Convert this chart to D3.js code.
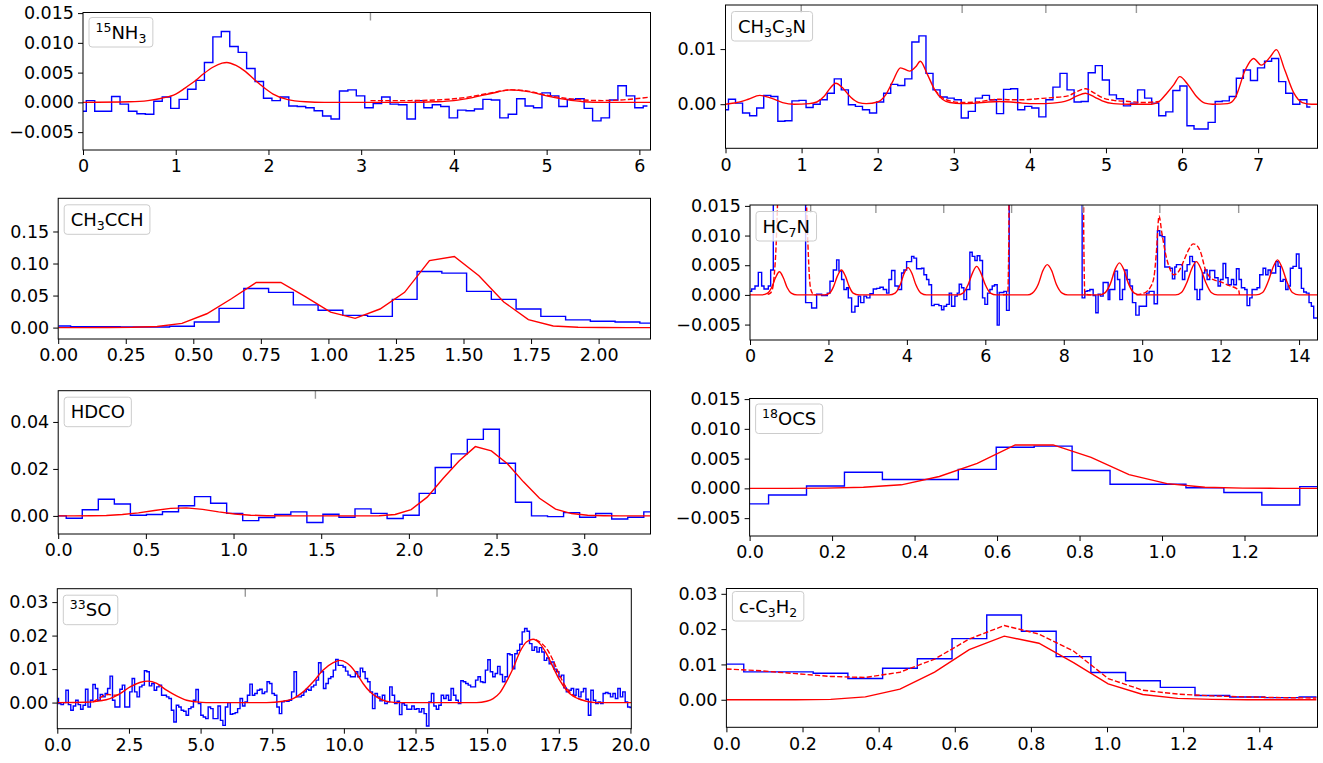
<!DOCTYPE html>
<html><head><meta charset="utf-8">
<script src="https://cdn.jsdelivr.net/npm/d3@7"></script>
<style>
body{margin:0;background:#fff;}
svg text{font-family:"DejaVu Sans",sans-serif;fill:#000;}
</style></head><body>
<svg id="chart" width="1323" height="763"></svg>
<script>
// ---------------- DATA ----------------
// 15NH3
const nh3Label = [["15","sup"],["NH",""],["3","sub"]];
const nh3ChanStart = -0.01, nh3ChanWidth = 0.091;
const nh3Obs = [-0.0015,0.0003,-0.0015,-0.0015,0.001,-0.0003,-0.0015,-0.0019,-0.002,0.0002,
 0.0009,-0.001,0.0005,0.0022,0.0037,0.0067,0.011,0.0119,0.0094,0.0084,
 0.0057,0.0035,0.0007,0.0003,0.0009,-0.0006,-0.0007,-0.0009,-0.0014,-0.0023,
 -0.0028,0.0019,0.0021,0.0011,-0.0009,-0.0002,0.0009,-0.0003,-0.0004,-0.0028,
 0.0003,-0.0009,-0.0004,-0.0007,-0.0026,-0.0013,-0.0014,-0.0011,0.0005,0.0004,
 -0.0026,-0.002,0.0006,-0.0006,-0.0009,0.0016,0.0011,-0.0007,0.0005,0.0006,
 -0.001,-0.0031,-0.0026,0.0004,0.0028,0.0011,-0.0009,-0.0006];
const nh3Model = [[0,0],[0.5,0.0001],[0.7,0.0003],[0.85,0.0007],[1.0,0.0014],[1.1,0.0024],[1.2,0.0035],[1.3,0.0048],[1.4,0.0059],[1.5,0.0066],[1.55,0.0067],[1.65,0.0062],[1.75,0.0052],[1.85,0.0038],[1.95,0.0025],[2.05,0.0014],[2.2,0.0005],[2.4,0.0001],[2.6,0],[3.5,0],[3.8,0.0001],[4.0,0.0003],[4.2,0.0008],[4.4,0.0015],[4.62,0.0021],[4.8,0.0018],[5.0,0.0011],[5.2,0.0005],[5.4,0.0001],[5.6,0],[6.12,0]];
const nh3Total = [[3.1,0.0003],[3.5,0.0003],[3.8,0.0004],[4.0,0.0006],[4.2,0.001],[4.4,0.0016],[4.62,0.0021],[4.8,0.0019],[5.0,0.0012],[5.2,0.0007],[5.4,0.0004],[5.6,0.0003],[5.8,0.0004],[5.95,0.0006],[6.12,0.0009]];
const nh3Lines = [3.10];
const nh3XTicks = [0,1,2,3,4,5,6];
const nh3YTicks = [-0.005,0,0.005,0.01,0.015];

// CH3C3N
const ch3c3nLabel = [["CH",""],["3","sub"],["C",""],["3","sub"],["N",""]];
const ch3c3nChanStart = -0.0074, ch3c3nChanWidth = 0.0927;
const ch3c3nObs = [-0.001,0.0009,0.0002,-0.0016,-0.0021,-0.0007,0.0016,0.0014,-0.0031,-0.003,
 0.0006,0.0007,-0.0006,0,0.0008,0.002,0.0046,0.0026,-0.0001,-0.0004,
 -0.001,-0.0016,0.0004,0.002,0.0036,0.0034,0.0046,0.0113,0.0124,0.0056,
 0.0026,0.0013,0.0011,0.0008,-0.0025,-0.0013,0.0011,0.0016,0.0008,-0.0017,
 0.0027,0.0028,-0.001,-0.0004,-0.0007,-0.0023,0.0008,0.0031,0.0056,0.0026,
 0.0004,0.0005,0.0057,0.007,0.0044,0.0017,0.001,-0.0003,0.0002,0.0026,
 0.0011,0.0002,-0.0021,-0.0014,0.0025,0.0033,-0.0039,-0.0045,-0.0045,-0.0033,
 0.0005,0.0006,0.0014,0.0047,0.0062,0.0043,0.0066,0.0078,0.0083,0.0041,
 0.002,0,0.0008,-0.0005];
const ch3c3nModel = [[0,0],[0.15,0.0003],[0.3,0.0009],[0.45,0.0016],[0.6,0.0011],[0.75,0.0003],[0.9,0],[1.1,0.0001],[1.2,0.0004],[1.3,0.0015],[1.38,0.003],[1.45,0.0038],[1.55,0.0028],[1.65,0.0012],[1.75,0.0003],[1.85,0.0001],[2.0,0.0004],[2.1,0.0016],[2.2,0.0042],[2.3,0.0066],[2.42,0.006],[2.5,0.0068],[2.56,0.0078],[2.65,0.0055],[2.75,0.0026],[2.85,0.0009],[2.95,0.0003],[3.1,0.0001],[3.3,0.0002],[3.45,0.0004],[3.6,0.0005],[3.75,0.0004],[3.9,0.0002],[4.1,0.0001],[4.3,0.0002],[4.5,0.0007],[4.62,0.0015],[4.73,0.002],[4.85,0.0013],[4.95,0.0006],[5.1,0.0001],[5.3,0],[5.6,0],[5.7,0.0005],[5.8,0.002],[5.89,0.0035],[5.97,0.005],[6.08,0.0035],[6.19,0.0014],[6.3,0.0002],[6.4,0],[6.6,0.0001],[6.7,0.0012],[6.83,0.0062],[6.94,0.0083],[7.04,0.0071],[7.16,0.0086],[7.24,0.0099],[7.35,0.0062],[7.47,0.002],[7.58,0.0003],[7.7,0],[7.78,0]];
const ch3c3nTotal = [[2.75,0.0026],[2.85,0.0012],[2.95,0.0006],[3.1,0.0003],[3.3,0.0004],[3.45,0.0007],[3.6,0.0009],[3.75,0.0008],[3.9,0.0008],[4.1,0.001],[4.3,0.0012],[4.5,0.0015],[4.62,0.0023],[4.73,0.0028],[4.85,0.002],[4.95,0.0012],[5.1,0.0007],[5.3,0.0005],[5.5,0.0003],[5.7,0.0005]];
const ch3c3nLines = [0.995,3.11,4.21,5.40];
const ch3c3nXTicks = [0,1,2,3,4,5,6,7];
const ch3c3nYTicks = [0,0.01];

// CH3CCH
const ch3cchLabel = [["CH",""],["3","sub"],["CCH",""]];
const ch3cchChanStart = 0, ch3cchChanWidth = 0.0916;
const ch3cchObs = [0.0026,0.0015,0.0015,0.001,0.001,0.002,0.0088,0.030,0.061,0.055,
 0.0355,0.027,0.019,0.0175,0.044,0.0875,0.085,0.0566,0.044,0.029,
 0.0175,0.012,0.0098,0.0088,0.007];
const ch3cchModel = [[0,0],[0.092,0],[0.183,0.0001],[0.275,0.0005],[0.366,0.0018],[0.458,0.0065],[0.55,0.0216],[0.641,0.045],[0.733,0.0705],[0.824,0.0705],[0.916,0.048],[1.008,0.024],[1.099,0.0145],[1.191,0.029],[1.282,0.055],[1.374,0.1045],[1.466,0.111],[1.557,0.081],[1.649,0.04],[1.74,0.0125],[1.832,0.0026],[1.924,0.0005],[2.015,0.0001],[2.107,0],[2.198,0]];
const ch3cchXTicks = [0,0.25,0.5,0.75,1,1.25,1.5,1.75,2];
const ch3cchYTicks = [0,0.05,0.1,0.15];

// HC7N
const hc7nLabel = [["HC",""],["7","sub"],["N",""]];
const hc7nObs = [[0,0.0006],[0.042,0.001],[0.127,0.0015],[0.212,0.0038],[0.297,0.0015],[0.357,0.001],[0.467,0.0015],[0.527,0.0042],[0.594,0.06],[1.418,-0.0013],[1.571,-0.0022],[1.699,0.0001],[1.826,-0.0001],[1.971,0.0003],[2.039,0.0023],[2.124,0.0042],[2.209,0.0059],[2.268,0.004],[2.336,0.0026],[2.395,0.0009],[2.463,0.0012],[2.506,-0.0005],[2.591,-0.0029],[2.676,-0.0019],[2.761,-0.0002],[2.82,-0.0013],[2.905,-0.0002],[2.973,-0.0005],[3.058,0.0002],[3.143,0.001],[3.228,0.0011],[3.313,0.0013],[3.398,0.0009],[3.483,0.0003],[3.542,0.0026],[3.61,0.0041],[3.695,0.0015],[3.78,0.0009],[3.865,0.0037],[3.924,0.0042],[3.993,0.0056],[4.052,0.0056],[4.12,0.0065],[4.179,0.0062],[4.247,0.0044],[4.307,0.0044],[4.375,0.0045],[4.434,0.0034],[4.502,0.0026],[4.561,0.0017],[4.629,-0.0018],[4.697,-0.0016],[4.757,-0.0016],[4.816,-0.0018],[4.884,-0.0025],[4.944,-0.0019],[5.012,-0.0016],[5.08,0.0003],[5.139,-0.0019],[5.224,-0.0002],[5.284,0.0003],[5.334,0.0018],[5.394,0.0012],[5.454,-0.0008],[5.522,0.0009],[5.606,0.0072],[5.666,0.0065],[5.734,0.0058],[5.793,0.0066],[5.861,0.0058],[5.929,-0.0005],[5.989,-0.0016],[6.057,0.0003],[6.116,0.0009],[6.176,0.0015],[6.235,0.0017],[6.303,-0.0051],[6.354,0.0004],[6.413,0.0004],[6.473,0.0006],[6.541,-0.0026],[6.609,0.06],
 [8.469,-0.0005],[8.537,0.0006],[8.597,0.0007],[8.665,0.0009],[8.75,-0.0001],[8.817,-0.003],[8.877,0.0001],[8.936,-0.0002],[9.004,0.0021],[9.072,0.0021],[9.132,-0.0008],[9.174,0.0009],[9.242,0.0009],[9.302,0.004],[9.37,0.0026],[9.429,-0.0008],[9.497,0.0009],[9.557,0.0042],[9.616,0.0026],[9.684,0.0015],[9.752,-0.0013],[9.837,-0.0034],[9.922,-0.0019],[10.007,-0.0019],[10.109,0.0003],[10.177,0.0006],[10.236,0.0006],[10.304,-0.0015],[10.389,0.0108],[10.448,0.01],[10.508,0.0098],[10.576,0.0047],[10.635,0.0047],[10.703,0.0045],[10.771,0.0027],[10.831,0.0047],[10.873,0.0051],[10.958,0.0051],[11.026,0.0026],[11.086,0.004],[11.145,0.0051],[11.213,0.0065],[11.281,0.0056],[11.34,0.0009],[11.4,-0.0008],[11.468,0.0009],[11.536,0.0037],[11.595,0.0042],[11.655,0.0026],[11.723,0.0041],[11.791,0.0041],[11.85,0.0029],[11.935,0.0015],[11.995,0.0026],[12.062,0.0053],[12.13,0.0029],[12.19,0.0017],[12.275,0.0026],[12.334,0.0017],[12.402,0.0044],[12.47,0.0026],[12.53,0.0012],[12.615,0.0009],[12.674,-0.0018],[12.742,-0.0005],[12.802,0.0009],[12.87,0.0009],[12.929,0.0012],[12.997,0.0034],[13.082,0.0045],[13.15,0.0034],[13.209,0.0042],[13.269,0.0037],[13.337,0.0037],[13.405,0.0056],[13.464,0.0048],[13.524,0.0023],[13.592,0.0026],[13.66,0.0009],[13.719,0.0015],[13.778,0.0045],[13.846,0.0048],[13.931,0.0069],[13.999,0.0045],[14.059,0.0011],[14.118,0.0005],[14.186,0.0003],[14.254,-0.0013],[14.313,-0.0019],[14.373,-0.0039],[14.441,-0.0039],[14.5,-0.0039]];
const hc7nModel = [[0,0],[0.3,0],[0.45,0.0003],[0.55,0.0012],[0.65,0.0029],[0.75,0.0039],[0.85,0.0029],[0.95,0.0012],[1.05,0.0003],[1.2,0],
 [1.9,0],[2.03,0.0003],[2.13,0.0014],[2.23,0.0032],[2.33,0.0042],[2.43,0.0032],[2.53,0.0014],[2.63,0.0003],[2.78,0],
 [3.55,0],[3.7,0.0003],[3.83,0.0017],[3.93,0.0036],[4.03,0.0046],[4.13,0.0036],[4.23,0.0017],[4.36,0.0003],[4.5,0],
 [5.3,0],[5.43,0.0003],[5.56,0.0017],[5.68,0.0038],[5.78,0.0048],[5.88,0.0038],[6.0,0.0017],[6.13,0.0003],[6.28,0],
 [7.08,0],[7.2,0.0003],[7.35,0.0018],[7.47,0.0041],[7.58,0.0051],[7.69,0.0041],[7.81,0.0018],[7.96,0.0003],[8.1,0],
 [8.9,0],[9.04,0.0003],[9.19,0.0019],[9.31,0.0043],[9.42,0.0054],[9.53,0.0043],[9.65,0.0019],[9.8,0.0003],[9.95,0],
 [10.85,0],[11.0,0.0004],[11.14,0.0021],[11.27,0.0045],[11.38,0.0056],[11.49,0.0045],[11.62,0.0021],[11.76,0.0004],[11.92,0],
 [12.9,0],[13.07,0.0004],[13.21,0.0022],[13.34,0.0047],[13.45,0.0059],[13.56,0.0047],[13.69,0.0022],[13.83,0.0004],[14.0,0],[14.5,0]];
const hc7nTotal = [[0.45,0.0001],[0.5,0.0002],[0.57,0.0009],[0.62,0.0035],[0.66,0.0075],[0.7,0.015],[0.75,0.03],[0.85,0.1],[1.07,0.4],[1.3,0.1],[1.4,0.03],[1.44,0.016],[1.48,0.008],[1.52,0.0025],[1.56,0.0007],[1.62,0.0001],[1.7,0],null,
 [6.45,0],[6.57,0.0001],[6.6,0.01],[6.62,0.1],[8.49,0.1],[8.51,0.01],[8.54,0.0001],[8.7,0],null,
 [9.85,0],[10.0,0.0002],[10.1,0.0005],[10.2,0.0012],[10.3,0.003],[10.36,0.007],[10.43,0.0133],[10.5,0.0105],[10.6,0.0068],[10.7,0.0045],[10.8,0.0034],[10.9,0.0037],[11.0,0.0048],[11.1,0.0064],[11.2,0.0078],[11.3,0.0086],[11.4,0.0083],[11.5,0.007],[11.6,0.0045],[11.7,0.0032],[11.8,0.0026],[12.0,0.0022],[12.2,0.0016],[12.4,0.0011],[12.46,0.0008],[12.48,0]];
const hc7nLines = [1.547,3.21,4.94,6.67,8.49,10.45,12.46];
const hc7nXTicks = [0,2,4,6,8,10,12,14];
const hc7nYTicks = [-0.005,0,0.005,0.01,0.015];

// HDCO
const hdcoLabel = [["HDCO",""]];
const hdcoChanStart = 0, hdcoChanWidth = 0.0915;
const hdcoObs = [0,-0.001,0.0026,0.0071,0.0051,0.0003,0.0006,0.0018,0.0043,0.0082,
 0.0054,0.0011,-0.002,-0.0007,0.0006,0.0017,-0.0028,0.0007,-0.0006,0.003,
 0.0011,-0.0011,0.0003,0.0096,0.0206,0.0264,0.0326,0.0369,0.0224,0.0058,
 0,-0.0003,0.0014,-0.0006,0.001,-0.0013,-0.0006,0.0017];
const hdcoModel = [[0,0],[0.0915,0],[0.183,0.0001],[0.2745,0.0002],[0.366,0.0006],[0.4575,0.0013],[0.549,0.0023],[0.6405,0.0032],[0.732,0.0034],[0.8235,0.0028],[0.915,0.0017],[1.0065,0.0008],[1.098,0.0003],[1.19,0.0001],[1.281,0],[1.739,0],[1.83,0.0001],[1.9215,0.0006],[2.013,0.0027],[2.1045,0.008],[2.196,0.016],[2.2875,0.0235],[2.379,0.0295],[2.4705,0.0277],[2.562,0.0222],[2.6535,0.0145],[2.745,0.0075],[2.8365,0.0029],[2.928,0.001],[3.0195,0.0003],[3.111,0.0001],[3.2025,0],[3.378,0]];
const hdcoLines = [1.467];
const hdcoXTicks = [0,0.5,1,1.5,2,2.5,3];
const hdcoYTicks = [0,0.02,0.04];

// 18OCS
const ocsLabel = [["18","sup"],["OCS",""]];
const ocsChanStart = 0, ocsChanWidth = 0.092;
const ocsObs = [-0.0026,-0.0011,0.0004,0.0027,0.0015,0.0015,0.0032,0.0069,0.0071,0.003,
 0.0007,0.0007,0.0001,-0.0007,-0.0028,0.0003];
const ocsModel = [[0,0],[0.092,0],[0.184,0.00005],[0.276,0.0002],[0.368,0.0006],[0.46,0.002],[0.552,0.0042],[0.644,0.0073],[0.736,0.0073],[0.828,0.0052],[0.92,0.0023],[1.012,0.0008],[1.104,0.0002],[1.196,0.00005],[1.288,0],[1.38,0]];
const ocsXTicks = [0,0.2,0.4,0.6,0.8,1.0,1.2];
const ocsYTicks = [-0.005,0,0.005,0.01,0.015];

// 33SO
const soLabel = [["33","sup"],["SO",""]];
const soChanStart = 0, soChanWidth = 0.0856;
const soObs = [0.0012,-0.0003,-0.0006,0,0.0037,-0.0006,-0.0023,-0.001,0.0007,-0.0006,
 -0.002,-0.0008,0.004,-0.0013,0.0007,0.0054,0.0042,0.0007,0.0024,0.0017,
 0.0027,0.0042,0.0079,0.0007,-0.0013,-0.0013,0.004,0.0052,-0.0013,-0.0013,
 0.0032,0.0072,0.0032,0.0017,0.0047,0.0052,0.0095,0.0092,0.005,0.0057,
 0.0037,0.0047,0.0052,0.0022,0.0022,0.0017,0.0012,-0.0023,-0.0058,-0.0008,
 -0.0013,-0.0023,-0.0026,-0.0038,-0.0018,-0.0013,0.0007,0.0039,-0.0003,-0.0038,
 -0.0043,-0.0048,-0.0013,-0.0018,-0.0048,-0.0048,-0.001,-0.0053,-0.0068,-0.0013,
 0,-0.0035,-0.0033,-0.003,-0.0018,0.0012,-0.001,0.0002,0.0022,0.0055,
 0.0022,0.0027,0.0037,0.004,0.0027,0.0032,0.0062,0.0057,0.0027,0.0022,
 -0.0013,-0.0033,0.0002,0.0005,0.0004,0.0007,0.0032,0.0092,0.0017,0.0017,
 0.0022,0.0032,0.004,0.0037,0.0047,0.0052,0.0067,0.0119,0.0092,0.0042,
 0.0057,0.0072,0.0077,0.0097,0.0129,0.0111,0.0111,0.0106,0.0094,0.0082,
 0.0077,0.0077,0.0092,0.0077,0.0103,0.0092,0.0072,0.0062,0.0032,-0.0018,
 0.0027,0.0017,0.0005,0.0022,-0.0003,0.0002,0.0047,0.0022,-0.0003,0.0004,
 -0.0036,-0.0003,-0.0008,-0.002,-0.002,-0.001,-0.002,-0.0018,-0.0028,-0.0018,
 -0.0033,-0.007,0.0002,0.0027,-0.001,-0.002,-0.0008,0.0022,0.0012,0.0022,
 0.0007,0.0042,0.0022,0.0007,-0.0003,0.0065,0.0062,0.0057,0.0052,0.0047,
 0.0047,0.0067,0.0077,0.0062,0.006,0.0097,0.0128,0.0092,0.0077,0.0087,
 0.0108,0.0084,0.0062,0.0077,0.0146,0.0143,0.0101,0.0146,0.0156,0.0174,
 0.0211,0.0221,0.0213,0.0176,0.0156,0.0166,0.0151,0.0164,0.0151,0.0126,
 0.0133,0.0116,0.0121,0.01,0.0092,0.0077,0.0082,0.0044,0.0032,0.0037,
 0.0042,0.0022,0.004,0.0017,0.0032,0.0042,0.001,-0.0038,0.0037,0.0007,
 -0.0003,0.0002,-0.0003,0.0027,0.003,0.0027,0.0017,0.0027,0.0012,0.0042,
 0.0017,0.0032,0.0002,-0.0013,-0.0015];
const soModel = [[0,0],[1.0,0.0001],[1.49,0.0005],[1.84,0.0012],[2.19,0.0027],[2.54,0.0047],[2.88,0.006],[3.17,0.0064],[3.47,0.0057],[3.81,0.0037],[4.16,0.002],[4.51,0.0007],[4.86,0.0002],[5.2,0],[7.3,0],[7.88,0.0004],[8.23,0.0012],[8.58,0.0032],[8.93,0.0062],[9.28,0.0097],[9.63,0.0119],[9.86,0.0126],[10.09,0.0119],[10.21,0.0111],[10.44,0.0087],[10.67,0.0057],[10.91,0.0032],[11.14,0.0017],[11.37,0.0007],[11.6,0.0002],[11.9,0],[14.63,0],[14.98,0.0004],[15.21,0.0012],[15.44,0.0029],[15.67,0.0062],[15.91,0.0103],[16.14,0.0151],[16.37,0.0181],[16.6,0.0189],[16.84,0.0176],[17.07,0.0146],[17.3,0.0106],[17.53,0.0067],[17.77,0.0037],[18.0,0.0019],[18.23,0.001],[18.46,0.0004],[18.81,0],[20.05,0]];
const soTotal = [[1.25,0.0002],[1.45,0.0012],[1.65,0.0022],[1.8,0.0024],[1.95,0.0022],[2.1,0.0023],[2.2,0.0027],null,
 [16.7,0.0188],[16.9,0.0177],[17.1,0.0158],[17.3,0.0126],[17.5,0.0087],[17.7,0.0053],[17.9,0.003],[18.1,0.0016],[18.3,0.0008]];
const soLines = [6.56,13.25];
const soXTicks = [0,2.5,5,7.5,10,12.5,15,17.5,20];
const soYTicks = [0,0.01,0.02,0.03];

// c-C3H2
const c3h2Label = [["c-C",""],["3","sub"],["H",""],["2","sub"]];
const c3h2ChanStart = 0, c3h2ChanWidth = 0.0912;
const c3h2Obs = [0.0101,0.0079,0.0079,0.0075,0.006,0.0089,0.0116,0.0173,0.024,0.0194,
 0.0122,0.0077,0.0054,0.0035,0.0012,0.0008,0.0006,0.0008];
const c3h2Model = [[0,0],[0.091,0],[0.182,0],[0.274,0.0001],[0.365,0.0008],[0.456,0.003],[0.547,0.0078],[0.638,0.0142],[0.73,0.018],[0.821,0.016],[0.912,0.0105],[1.003,0.0045],[1.094,0.0015],[1.186,0.0004],[1.277,0.0001],[1.368,0],[1.46,0],[1.55,0]];
const c3h2Total = [[0,0.0087],[0.091,0.0082],[0.182,0.0074],[0.274,0.0066],[0.365,0.0063],[0.456,0.0078],[0.547,0.0115],[0.638,0.0172],[0.73,0.021],[0.821,0.0186],[0.912,0.0138],[1.003,0.006],[1.094,0.0027],[1.186,0.0016],[1.277,0.0011],[1.368,0.0008],[1.46,0.0006],[1.55,0.0005]];
const c3h2XTicks = [0,0.2,0.4,0.6,0.8,1.0,1.2,1.4];
const c3h2YTicks = [0,0.01,0.02,0.03];

// ---------------- DRAWING ----------------
const svg = d3.select('#chart');
const BLUE = '#0000ff', RED = '#ff0000';
const TICKFS = 17.5, LEGFS = 18;

function chan(start, width, vals){ return vals.map((v,i)=>[start + i*width, v]); }

const panels = [
 {id:'p1', L:83, R:650.5, T:12.5, B:150, xd:[0,6.12], yd:[-0.008,0.0151], xt:nh3XTicks, xf:'d', yt:nh3YTicks, yf:'.3f', label:nh3Label, lgOff:5,
  obs:chan(nh3ChanStart,nh3ChanWidth,nh3Obs), obsCurve:d3.curveStep, model:nh3Model, modelCurve:d3.curveMonotoneX, total:nh3Total, lines:nh3Lines},
 {id:'p2', L:725.5, R:1317.5, T:5, B:148.3, xd:[0,7.78], yd:[-0.008,0.018], xt:ch3c3nXTicks, xf:'d', yt:ch3c3nYTicks, yf:'.2f', label:ch3c3nLabel, lgOff:6.5,
  obs:chan(ch3c3nChanStart,ch3c3nChanWidth,ch3c3nObs), obsCurve:d3.curveStep, model:ch3c3nModel, modelCurve:d3.curveMonotoneX, total:ch3c3nTotal, lines:ch3c3nLines},
 {id:'p3', L:58.2, R:650.5, T:198.3, B:339, xd:[0,2.192], yd:[-0.0178,0.2018], xt:ch3cchXTicks, xf:'.2f', yt:ch3cchYTicks, yf:'.2f', label:ch3cchLabel, lgOff:6.5,
  obs:chan(ch3cchChanStart,ch3cchChanWidth,ch3cchObs), obsCurve:d3.curveStep, model:ch3cchModel, modelCurve:d3.curveLinear, total:null, lines:[]},
 {id:'p4', L:750, R:1317.5, T:205, B:340, xd:[0,14.47], yd:[-0.0076,0.01515], xt:hc7nXTicks, xf:'d', yt:hc7nYTicks, yf:'.3f', label:hc7nLabel, lgOff:6.5,
  obs:hc7nObs, obsCurve:d3.curveStepAfter, model:hc7nModel, modelCurve:d3.curveMonotoneX, total:hc7nTotal, lines:hc7nLines},
 {id:'p5', L:58.2, R:650.5, T:390.7, B:534, xd:[0,3.378], yd:[-0.0077,0.0533], xt:hdcoXTicks, xf:'.1f', yt:hdcoYTicks, yf:'.2f', label:hdcoLabel, lgOff:6.5,
  obs:chan(hdcoChanStart,hdcoChanWidth,hdcoObs), obsCurve:d3.curveStep, model:hdcoModel, modelCurve:d3.curveLinear, total:null, lines:hdcoLines},
 {id:'p6', L:749.6, R:1317.5, T:398.5, B:536, xd:[0,1.377], yd:[-0.008,0.0151], xt:ocsXTicks, xf:'.1f', yt:ocsYTicks, yf:'.3f', label:ocsLabel, lgOff:5.5,
  obs:chan(ocsChanStart,ocsChanWidth,ocsObs), obsCurve:d3.curveStep, model:ocsModel, modelCurve:d3.curveLinear, total:null, lines:[]},
 {id:'p7', L:57.3, R:631.3, T:588.7, B:728.7, xd:[0,20.03], yd:[-0.0078,0.034], xt:soXTicks, xf:'.1f', yt:soYTicks, yf:'.2f', label:soLabel, lgOff:6.5,
  obs:chan(soChanStart,soChanWidth,soObs), obsCurve:d3.curveStep, model:soModel, modelCurve:d3.curveMonotoneX, total:soTotal, lines:soLines},
 {id:'p8', L:726.4, R:1317.5, T:588.5, B:727.3, xd:[0,1.553], yd:[-0.0078,0.0315], xt:c3h2XTicks, xf:'.1f', yt:c3h2YTicks, yf:'.2f', label:c3h2Label, lgOff:3,
  obs:chan(c3h2ChanStart,c3h2ChanWidth,c3h2Obs), obsCurve:d3.curveStep, model:c3h2Model, modelCurve:d3.curveLinear, total:c3h2Total, lines:[]}
];

const defs = svg.append('defs');

panels.forEach(p => {
  const x = d3.scaleLinear().domain(p.xd).range([p.L, p.R]);
  const y = d3.scaleLinear().domain(p.yd).range([p.B, p.T]);
  const g = svg.append('g').attr('id', p.id);

  defs.append('clipPath').attr('id', 'clip-' + p.id)
    .append('rect').attr('x', p.L).attr('y', p.T).attr('width', p.R - p.L).attr('height', p.B - p.T);
  const plot = g.append('g').attr('clip-path', `url(#clip-${p.id})`);

  const mk = curve => d3.line().defined(d => d != null).x(d => x(d[0])).y(d => y(d[1])).curve(curve);

  plot.append('path').attr('d', mk(p.obsCurve)(p.obs))
    .attr('fill', 'none').attr('stroke', BLUE).attr('stroke-width', 1.4).attr('stroke-linejoin', 'miter');
  plot.append('path').attr('d', mk(p.modelCurve)(p.model))
    .attr('fill', 'none').attr('stroke', RED).attr('stroke-width', 1.4);
  if (p.total) {
    plot.append('path').attr('d', mk(p.modelCurve)(p.total))
      .attr('fill', 'none').attr('stroke', RED).attr('stroke-width', 1.4).attr('stroke-dasharray', '5.2,2.2');
  }
  plot.selectAll('line.mark').data(p.lines).join('line').attr('class', 'mark')
    .attr('x1', d => x(d)).attr('x2', d => x(d)).attr('y1', p.T).attr('y2', p.T + 8)
    .attr('stroke', '#999').attr('stroke-width', 1.4);

  g.append('rect').attr('x', p.L).attr('y', p.T).attr('width', p.R - p.L).attr('height', p.B - p.T)
    .attr('fill', 'none').attr('stroke', '#000').attr('stroke-width', 1);

  const ax = g.append('g').attr('transform', `translate(0,${p.B})`)
    .call(d3.axisBottom(x).tickValues(p.xt).tickFormat(d3.format(p.xf)).tickSize(5).tickPadding(5));
  const ay = g.append('g').attr('transform', `translate(${p.L},0)`)
    .call(d3.axisLeft(y).tickValues(p.yt).tickFormat(d3.format(p.yf)).tickSize(5).tickPadding(4));
  [ax, ay].forEach(a => {
    a.select('.domain').remove();
    a.selectAll('line').attr('stroke', '#000').attr('stroke-width', 1);
    a.selectAll('text').style('font-size', TICKFS + 'px').style('font-family', '"DejaVu Sans", sans-serif').attr('fill', '#000');
  });

  const lg = g.append('g');
  const bx = p.L + 6, by = p.T + p.lgOff, bh = 29.5;
  const t = lg.append('text').attr('x', bx + 6.5).attr('y', by + 21).style('font-size', LEGFS + 'px');
  let cur = 0;
  p.label.forEach(([s, kind]) => {
    const target = kind === 'sup' ? -7 : kind === 'sub' ? 4 : 0;
    t.append('tspan').attr('dy', target - cur)
      .style('font-size', kind ? '12.5px' : LEGFS + 'px').text(s);
    cur = target;
  });
  const bb = t.node().getBBox();
  lg.insert('rect', 'text').attr('x', bx).attr('y', by).attr('width', bb.width + 13).attr('height', bh)
    .attr('rx', 3).attr('fill', '#fff').attr('fill-opacity', 0.8).attr('stroke', '#cccccc').attr('stroke-width', 1);
});
</script>
</body></html>
